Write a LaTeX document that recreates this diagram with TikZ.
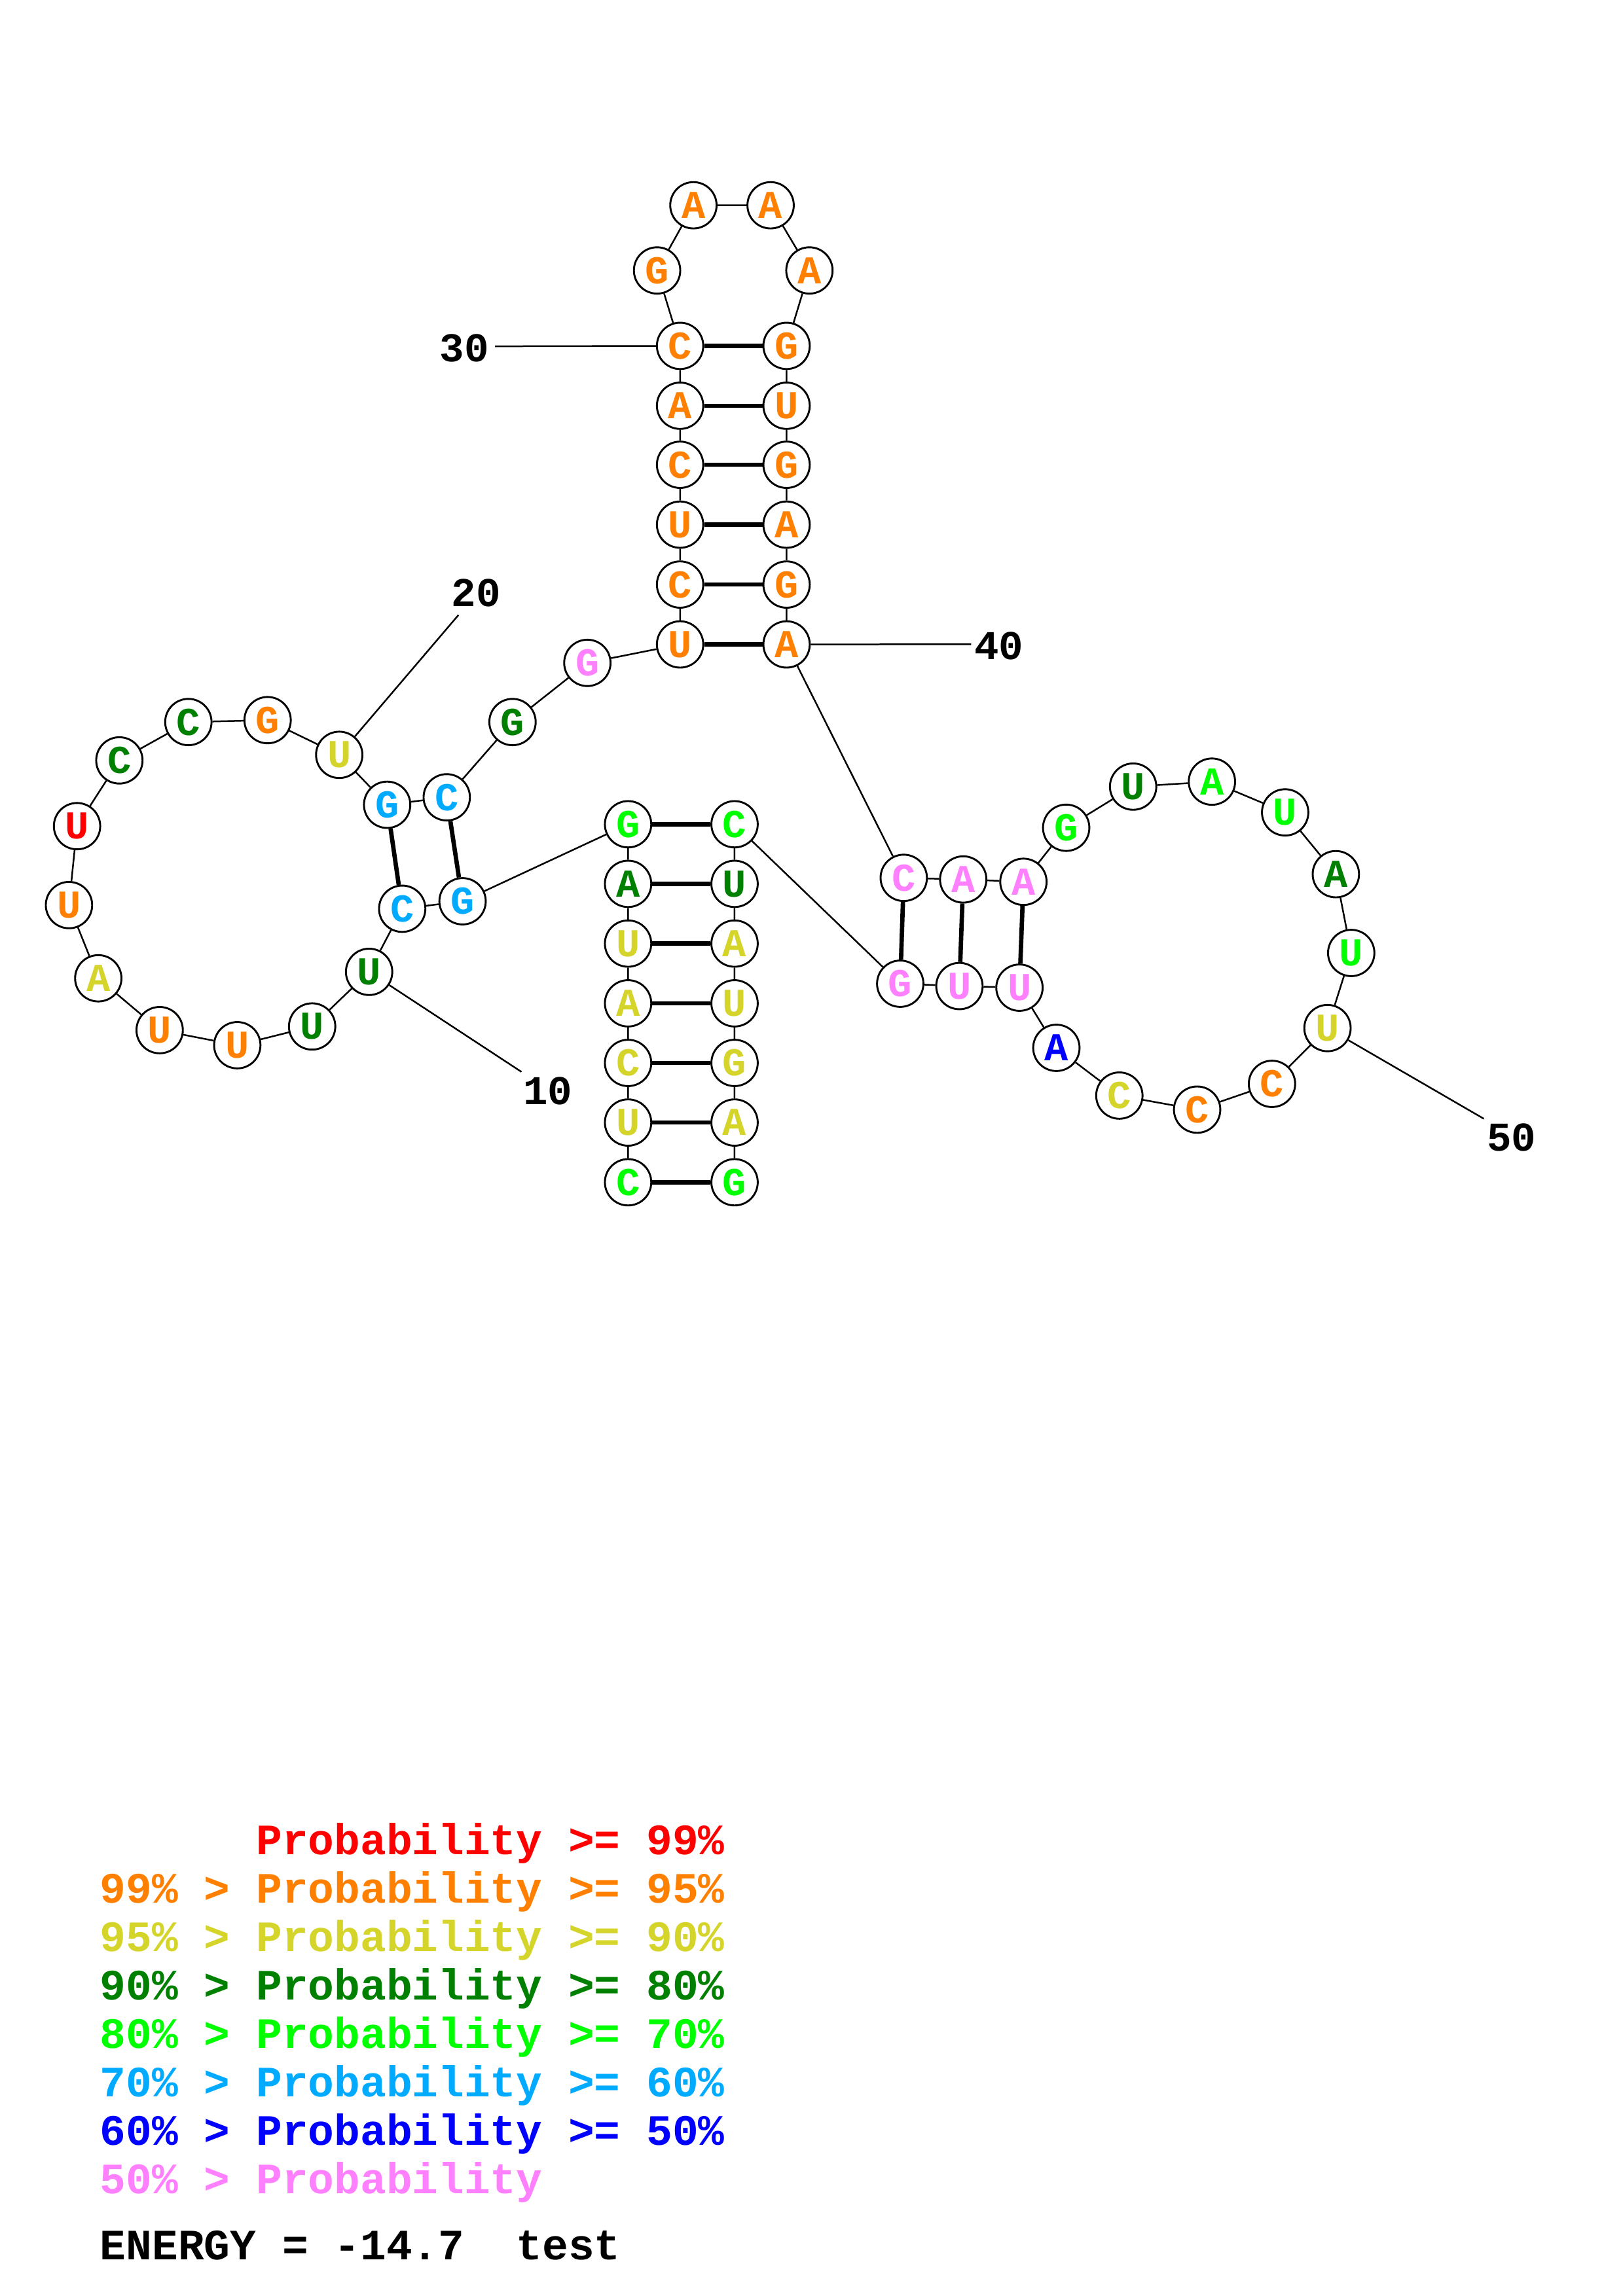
\documentclass[tikz,border=0pt]{standalone}
\usepackage{fontspec}
\setmonofont{Liberation Mono}
\usepackage{xcolor}
\usepackage{tikz}
\usetikzlibrary{positioning}
\definecolor{cRed}{RGB}{255,0,0}
\definecolor{cOrange}{RGB}{255,128,0}
\definecolor{cYellow}{RGB}{212,212,42}
\definecolor{cDkGreen}{RGB}{0,128,0}
\definecolor{cGreen}{RGB}{0,255,0}
\definecolor{cSky}{RGB}{0,170,255}
\definecolor{cBlue}{RGB}{0,0,255}
\definecolor{cPink}{RGB}{255,128,255}
\tikzset{
nt/.style={shape=circle, draw=black, line width=0.7pt, fill=white, minimum size=17pt, inner sep=0pt, font=\ttfamily\bfseries\fontsize{14.5}{14.5}\selectfont},
pr99/.style={text=cRed}, pr95/.style={text=cOrange}, pr90/.style={text=cYellow}, pr80/.style={text=cDkGreen},
pr70/.style={text=cGreen}, pr60/.style={text=cSky}, pr50/.style={text=cBlue}, prlow/.style={text=cPink},
backbone/.style={draw=black, line width=0.6pt},
pairline/.style={draw=black, line width=1.6pt},
numlabel/.style={inner sep=0pt, font=\ttfamily\bfseries\fontsize{15}{15}\selectfont},
legend/.style={anchor=base west, inner sep=0pt, font=\ttfamily\bfseries\fontsize{15.9}{18}\selectfont}
}

\begin{document}
\begin{tikzpicture}[x=0.5372pt, y=-0.5372pt]
\useasboundingbox (0,0) rectangle (1108,1568);

% outer stem, 5' side
\node[nt, pr70] (n1) at (428.8,807.4) {C};
\node[nt, pr90] (n2) at (428.8,766.6) {U};
\node[nt, pr90] (n3) at (428.8,725.9) {C};
\node[nt, pr90] (n4) at (428.8,685.2) {A};
\node[nt, pr90] (n5) at (428.8,644.4) {U};
\node[nt, pr80] (n6) at (428.8,603.6) {A};
\node[nt, pr70] (n7) at (428.8,562.9) {G};
% left loop
\node[nt, pr60] (n8) at (315.8,615.5) {G};
\node[nt, pr60] (n9) at (274.6,620.6) {C};
\node[nt, pr80] (n10) at (252.0,663.7) {U};
\node[nt, pr80] (n11) at (213.1,701.0) {U};
\node[nt, pr95] (n12) at (162.0,713.8) {U};
\node[nt, pr95] (n13) at (109.0,703.5) {U};
\node[nt, pr90] (n14) at (67.1,668.1) {A};
\node[nt, pr95] (n15) at (47.1,618.1) {U};
\node[nt, pr99] (n16) at (52.6,564.2) {U};
\node[nt, pr80] (n17) at (81.5,519.3) {C};
\node[nt, pr80] (n18) at (128.6,493.1) {C};
\node[nt, pr95] (n19) at (182.7,491.8) {G};
\node[nt, pr90] (n20) at (231.6,515.5) {U};
\node[nt, pr60] (n21) at (264.3,549.6) {G};
\node[nt, pr60] (n22) at (305.0,544.5) {C};
\node[nt, pr80] (n23) at (349.9,493.1) {G};
\node[nt, prlow] (n24) at (401.0,452.7) {G};
% hairpin
\node[nt, pr95] (n25) at (464.3,440.1) {U};
\node[nt, pr95] (n26) at (464.3,399.2) {C};
\node[nt, pr95] (n27) at (464.3,358.3) {U};
\node[nt, pr95] (n28) at (464.3,317.4) {C};
\node[nt, pr95] (n29) at (464.3,277.1) {A};
\node[nt, pr95] (n30) at (464.3,236.2) {C};
\node[nt, pr95] (n31) at (448.6,184.7) {G};
\node[nt, pr95] (n32) at (473.4,140.2) {A};
\node[nt, pr95] (n33) at (526.1,140.2) {A};
\node[nt, pr95] (n34) at (552.6,184.7) {A};
\node[nt, pr95] (n35) at (537.0,236.2) {G};
\node[nt, pr95] (n36) at (537.0,277.1) {U};
\node[nt, pr95] (n37) at (537.0,317.4) {G};
\node[nt, pr95] (n38) at (537.0,358.3) {A};
\node[nt, pr95] (n39) at (537.0,399.2) {G};
\node[nt, pr95] (n40) at (537.0,440.1) {A};
% right loop
\node[nt, prlow] (n41) at (617.0,599.5) {C};
\node[nt, prlow] (n42) at (657.6,600.6) {A};
\node[nt, prlow] (n43) at (698.7,602.2) {A};
\node[nt, pr70] (n44) at (727.9,565.3) {G};
\node[nt, pr80] (n45) at (773.6,537.2) {U};
\node[nt, pr70] (n46) at (827.4,533.8) {A};
\node[nt, pr70] (n47) at (877.4,554.8) {U};
\node[nt, pr80] (n48) at (912.0,597.0) {A};
\node[nt, pr70] (n49) at (922.5,650.8) {U};
\node[nt, pr90] (n50) at (906.3,702.1) {U};
\node[nt, pr95] (n51) at (868.4,740.2) {C};
\node[nt, pr95] (n52) at (817.3,757.8) {C};
\node[nt, pr90] (n53) at (764.2,748.2) {C};
\node[nt, pr50] (n54) at (721.2,715.6) {A};
\node[nt, prlow] (n55) at (696.0,674.5) {U};
\node[nt, prlow] (n56) at (655.0,673.4) {U};
\node[nt, prlow] (n57) at (614.6,671.8) {G};
% outer stem, 3' side
\node[nt, pr70] (n58) at (501.5,562.9) {C};
\node[nt, pr80] (n59) at (501.5,603.6) {U};
\node[nt, pr90] (n60) at (501.5,644.4) {A};
\node[nt, pr90] (n61) at (501.5,685.2) {U};
\node[nt, pr90] (n62) at (501.5,725.9) {G};
\node[nt, pr90] (n63) at (501.5,766.6) {A};
\node[nt, pr70] (n64) at (501.5,807.4) {G};

\draw[backbone] (n1) -- (n2) -- (n3) -- (n4) -- (n5) -- (n6) -- (n7) -- (n8) -- (n9) -- (n10)
  -- (n11) -- (n12) -- (n13) -- (n14) -- (n15) -- (n16) -- (n17) -- (n18) -- (n19) -- (n20)
  -- (n21) -- (n22) -- (n23) -- (n24) -- (n25) -- (n26) -- (n27) -- (n28) -- (n29) -- (n30)
  -- (n31) -- (n32) -- (n33) -- (n34) -- (n35) -- (n36) -- (n37) -- (n38) -- (n39) -- (n40)
  -- (n41) -- (n42) -- (n43) -- (n44) -- (n45) -- (n46) -- (n47) -- (n48) -- (n49) -- (n50)
  -- (n51) -- (n52) -- (n53) -- (n54) -- (n55) -- (n56) -- (n57) -- (n58) -- (n59) -- (n60)
  -- (n61) -- (n62) -- (n63) -- (n64);

% base pairs
\draw[pairline] (n1) -- (n64);
\draw[pairline] (n2) -- (n63);
\draw[pairline] (n3) -- (n62);
\draw[pairline] (n4) -- (n61);
\draw[pairline] (n5) -- (n60);
\draw[pairline] (n6) -- (n59);
\draw[pairline] (n7) -- (n58);
\draw[pairline] (n8) -- (n22);
\draw[pairline] (n9) -- (n21);
\draw[pairline] (n25) -- (n40);
\draw[pairline] (n26) -- (n39);
\draw[pairline] (n27) -- (n38);
\draw[pairline] (n28) -- (n37);
\draw[pairline] (n29) -- (n36);
\draw[pairline] (n30) -- (n35);
\draw[pairline] (n41) -- (n57);
\draw[pairline] (n42) -- (n56);
\draw[pairline] (n43) -- (n55);

% position numbers
\coordinate (t10) at (356,732);
\coordinate (t20) at (313,420);
\coordinate (t30) at (338,236.5);
\coordinate (t40) at (663,440);
\coordinate (t50) at (1013,764);
\node[numlabel] (l10) at (374,745) {10};
\node[numlabel] (l20) at (325,405) {20};
\node[numlabel] (l30) at (317,237.6) {30};
\node[numlabel] (l40) at (682,441) {40};
\node[numlabel] (l50) at (1032,777) {50};
\draw[backbone] (n10) -- (t10);
\draw[backbone] (n20) -- (t20);
\draw[backbone] (n30) -- (t30);
\draw[backbone] (n40) -- (t40);
\draw[backbone] (n50) -- (t50);

% legend
\node[legend, text=cRed] (k99) at (68,1266.5) {\hphantom{99\% > }Probability >= 99\%};
\node[legend, text=cOrange] (k95) at (68,1299.6) {99\% > Probability >= 95\%};
\node[legend, text=cYellow] (k90) at (68,1332.7) {95\% > Probability >= 90\%};
\node[legend, text=cDkGreen] (k80) at (68,1365.8) {90\% > Probability >= 80\%};
\node[legend, text=cGreen] (k70) at (68,1398.9) {80\% > Probability >= 70\%};
\node[legend, text=cSky] (k60) at (68,1432.0) {70\% > Probability >= 60\%};
\node[legend, text=cBlue] (k50) at (68,1465.1) {60\% > Probability >= 50\%};
\node[legend, text=cPink] (klow) at (68,1498.2) {50\% > Probability};
\node[legend, text=black] (energy) at (68,1543.1) {ENERGY = -14.7\ \ test};
\end{tikzpicture}
\end{document}
